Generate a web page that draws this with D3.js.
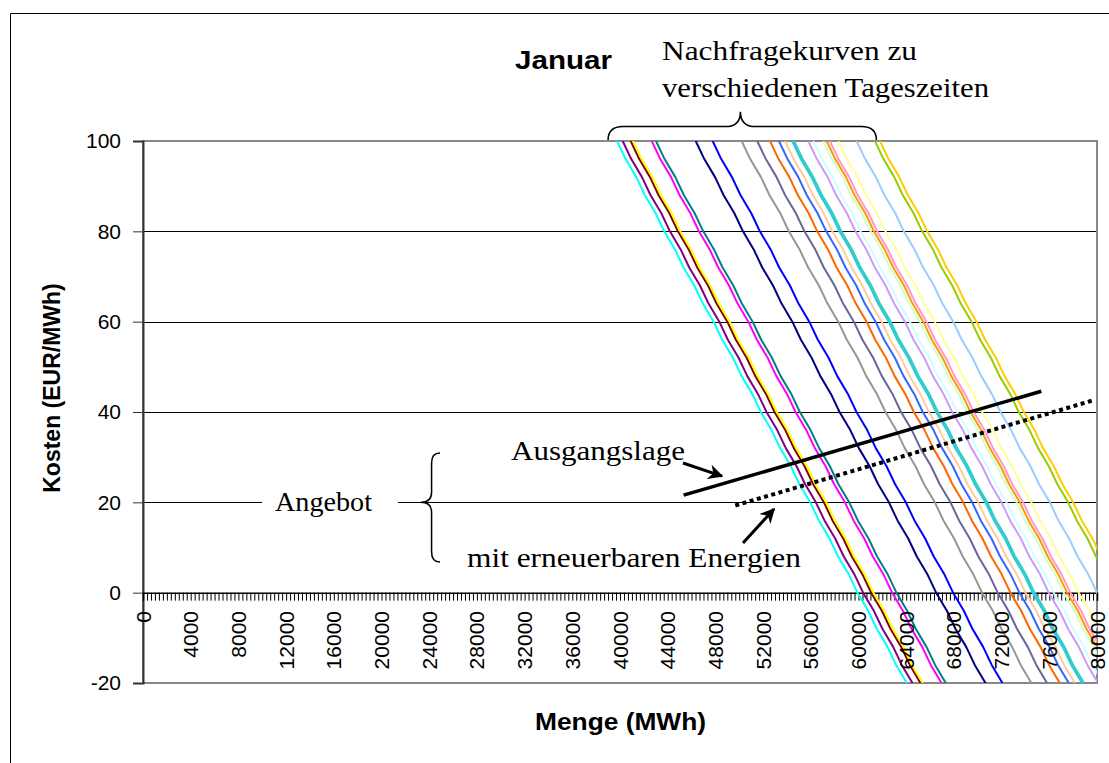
<!DOCTYPE html>
<html>
<head>
<meta charset="utf-8">
<script src="https://cdnjs.cloudflare.com/ajax/libs/d3/7.8.5/d3.min.js"></script>
<style>
  body { margin: 0; background: #fff; }
  svg { display: block; }
</style>
</head>
<body>
<div id="graph"></div>
<script>
// Axis ticks
var yTicks = [-20, 0, 20, 40, 60, 80, 100];
var xLabels = [0, 4000, 8000, 12000, 16000, 20000, 24000, 28000, 32000, 36000, 40000,
               44000, 48000, 52000, 56000, 60000, 64000, 68000, 72000, 76000, 80000];

// Demand curves: quantity at 100 EUR/MWh, one per hour of the day
var demandStart = [39750, 40225, 40900, 41090, 42660, 43020, 46350, 47770, 50200, 51510, 52580, 53330,
                   53840, 54450, 54530, 55790, 56210, 57050, 57600, 57330, 58300, 59840, 61380, 61800];

// Shape of a demand curve: [quantity offset, price]
var demandShape = [[0, 100], [720, 96], [1620, 92], [2340, 88], [3240, 84], [3960, 80], [4860, 76],
                   [5580, 72], [6480, 68], [7200, 64], [8100, 60], [8820, 56], [9720, 52], [10440, 48],
                   [11340, 44], [12060, 40], [12960, 36], [13680, 32], [14580, 28], [15300, 24],
                   [16200, 20], [16920, 16], [17820, 12], [18540, 8], [19440, 4], [20160, 0],
                   [21060, -4], [21780, -8], [22680, -12], [23400, -16], [24300, -20]];

// Supply curves: [quantity, price]
var supplyBase = [[45333, 21.6], [75333, 44.6]];
var supplyRenewable = [[49667, 19.3], [79833, 42.7]];

var demandColors = ["#00FFFF", "#800080", "#800000", "#FFFF00", "#FF00FF", "#008080", "#000080", "#0000FF",
                    "#969696", "#666699", "#FF6600", "#3366FF", "#FFCC99", "#00CCFF", "#33CCCC", "#CC99FF",
                    "#CCFFFF", "#CCFFCC", "#FF99CC", "#FF9900", "#FFFF99", "#99CCFF", "#99CC00", "#FFCC00"];

var CanvasInfo = { width: 1109, height: 763 };
var Plot = { left: 143, right: 1097, top: 141, bottom: 683 };
var SANS = "'Liberation Sans', Arial, sans-serif";
var SERIF = "'Liberation Serif', 'Times New Roman', serif";

var svg = d3.select("#graph").append("svg")
            .attr("width", CanvasInfo.width)
            .attr("height", CanvasInfo.height);

var x = d3.scaleLinear().domain([0, 80000]).range([Plot.left, Plot.right]);
var y = d3.scaleLinear().domain([-20, 100]).range([Plot.bottom, Plot.top]);

// chart area border (left and top visible)
svg.append("path")
   .attr("d", "M10.5," + CanvasInfo.height + "V13.5H" + CanvasInfo.width)
   .attr("fill", "none").attr("stroke", "#000").attr("stroke-width", 1);

svg.append("defs").append("clipPath").attr("id", "plotClip")
   .append("rect")
   .attr("x", Plot.left).attr("y", Plot.top)
   .attr("width", Plot.right - Plot.left).attr("height", Plot.bottom - Plot.top);

svg.select("defs").append("marker")
   .attr("id", "arrow").attr("viewBox", "0 0 10 10")
   .attr("refX", 9).attr("refY", 5)
   .attr("markerWidth", 5).attr("markerHeight", 5)
   .attr("orient", "auto")
   .append("path").attr("d", "M0,0L10,5L0,10L3,5Z").attr("fill", "#000");

// gridlines
svg.append("g")
   .selectAll("line")
   .data([20, 40, 60, 80])
   .join("line")
   .attr("x1", Plot.left).attr("x2", Plot.right)
   .attr("y1", function(d) { return Math.round(y(d)) + 0.5; })
   .attr("y2", function(d) { return Math.round(y(d)) + 0.5; })
   .attr("stroke", "#000").attr("stroke-width", 1);

// plot border
svg.append("rect")
   .attr("x", Plot.left).attr("y", Plot.top)
   .attr("width", Plot.right - Plot.left).attr("height", Plot.bottom - Plot.top)
   .attr("fill", "none").attr("stroke", "#888").attr("stroke-width", 2);

// white box behind "Angebot"
svg.append("rect")
   .attr("x", 262).attr("y", 482).attr("width", 136).attr("height", 40)
   .attr("fill", "#fff");

// y axis
var yAxis = svg.append("g")
   .attr("transform", "translate(" + Plot.left + ",0)")
   .call(d3.axisLeft(y).tickValues(yTicks).tickSize(10).tickPadding(12)
           .tickFormat(function(d) { return String(d); }));
yAxis.select(".domain").attr("stroke", "#333").attr("stroke-width", 2);
yAxis.selectAll(".tick line").attr("stroke", "#333");
yAxis.selectAll("text").attr("font-family", SANS).attr("font-size", 21).attr("fill", "#000");

// x axis at price 0, minor ticks every 1/240 of the range
var minorTicks = d3.range(0, 241).map(function(i) { return i * 80000 / 240; });
var xAxis = svg.append("g")
   .attr("transform", "translate(0," + y(0) + ")")
   .call(d3.axisBottom(x).tickValues(minorTicks).tickSize(8).tickFormat(""));
xAxis.select(".domain").attr("stroke", "#000").attr("stroke-width", 1.5);
xAxis.selectAll(".tick line").attr("stroke", "#000").attr("stroke-width", 1);

// demand curves
var line = d3.line()
             .x(function(p) { return x(p[0]); })
             .y(function(p) { return y(p[1]); });

var curves = svg.append("g").attr("clip-path", "url(#plotClip)");
demandStart.forEach(function(start, i) {
    var pts = demandShape.map(function(s) { return [start + s[0], s[1]]; });
    curves.append("path")
          .datum(pts)
          .attr("d", line)
          .attr("fill", "none")
          .attr("stroke", demandColors[i])
          .attr("stroke-width", demandColors[i] === "#33CCCC" ? 3.5 : 2)
          .attr("stroke-linejoin", "round");
});

// supply curves
svg.append("path").datum(supplyBase).attr("d", line)
   .attr("fill", "none").attr("stroke", "#000").attr("stroke-width", 3.5);
svg.append("path").datum(supplyRenewable).attr("d", line)
   .attr("fill", "none").attr("stroke", "#000").attr("stroke-width", 4)
   .attr("stroke-dasharray", "4,3.5");

// x tick labels
svg.append("g")
   .selectAll("text")
   .data(xLabels)
   .join("text")
   .attr("transform", function(d) { return "translate(" + x(d) + ",611) rotate(-90)"; })
   .attr("dy", "0.36em")
   .attr("text-anchor", "end")
   .attr("font-family", SANS).attr("font-size", 21)
   .text(function(d) { return d; });

// titles
svg.append("text").attr("x", 515).attr("y", 69)
   .attr("font-family", SANS).attr("font-weight", "bold").attr("font-size", 25)
   .attr("textLength", 97).attr("lengthAdjust", "spacingAndGlyphs")
   .text("Januar");

svg.append("text").attr("x", 535).attr("y", 730)
   .attr("font-family", SANS).attr("font-weight", "bold").attr("font-size", 23)
   .attr("textLength", 171).attr("lengthAdjust", "spacingAndGlyphs")
   .text("Menge (MWh)");

svg.append("text").attr("transform", "translate(60,388) rotate(-90)")
   .attr("text-anchor", "middle")
   .attr("font-family", SANS).attr("font-weight", "bold").attr("font-size", 23)
   .text("Kosten (EUR/MWh)");

// annotations
function serif(text, px, py, len) {
    svg.append("text").attr("x", px).attr("y", py)
       .attr("font-family", SERIF).attr("font-size", 27)
       .attr("textLength", len).attr("lengthAdjust", "spacingAndGlyphs")
       .text(text);
}
serif("Nachfragekurven zu", 662, 60, 255);
serif("verschiedenen Tageszeiten", 662, 97, 327);
serif("Ausgangslage", 511, 460, 174);
serif("mit erneuerbaren Energien", 467, 567, 334);
serif("Angebot", 275, 511, 97);

// arrows (data coordinates)
var arrows = [[[45283, 28.7], [48550, 25.8]], [[50314, 11.0], [52914, 18.5]]];
arrows.forEach(function(a) {
    svg.append("line")
       .attr("x1", x(a[0][0])).attr("y1", y(a[0][1]))
       .attr("x2", x(a[1][0])).attr("y2", y(a[1][1]))
       .attr("stroke", "#000").attr("stroke-width", 3)
       .attr("marker-end", "url(#arrow)");
});

// braces
var bx0 = x(39000), bx1 = x(61500), bm = x(50100), by = y(103.2), byTop = y(106.5), byEnd = y(100.2);
svg.append("path")
   .attr("d", "M" + bx0 + "," + byEnd + "Q" + bx0 + "," + by + " " + (bx0 + 15) + "," + by +
              "L" + (bm - 15) + "," + by + "Q" + bm + "," + by + " " + bm + "," + byTop +
              "Q" + bm + "," + by + " " + (bm + 15) + "," + by +
              "L" + (bx1 - 15) + "," + by + "Q" + bx1 + "," + by + " " + bx1 + "," + byEnd)
   .attr("fill", "none").attr("stroke", "#000").attr("stroke-width", 1.5);

var lx = x(24906), ls = x(24200), lt = x(23300), ly0 = y(30.9), ly1 = y(6.8), lm = y(20);
svg.append("path")
   .attr("d", "M" + lx + "," + ly0 + "Q" + ls + "," + ly0 + " " + ls + "," + (ly0 + 10) +
              "L" + ls + "," + (lm - 10) + "Q" + ls + "," + lm + " " + lt + "," + lm +
              "Q" + ls + "," + lm + " " + ls + "," + (lm + 10) +
              "L" + ls + "," + (ly1 - 10) + "Q" + ls + "," + ly1 + " " + lx + "," + ly1)
   .attr("fill", "none").attr("stroke", "#000").attr("stroke-width", 1.5);
</script>
</body>
</html>
